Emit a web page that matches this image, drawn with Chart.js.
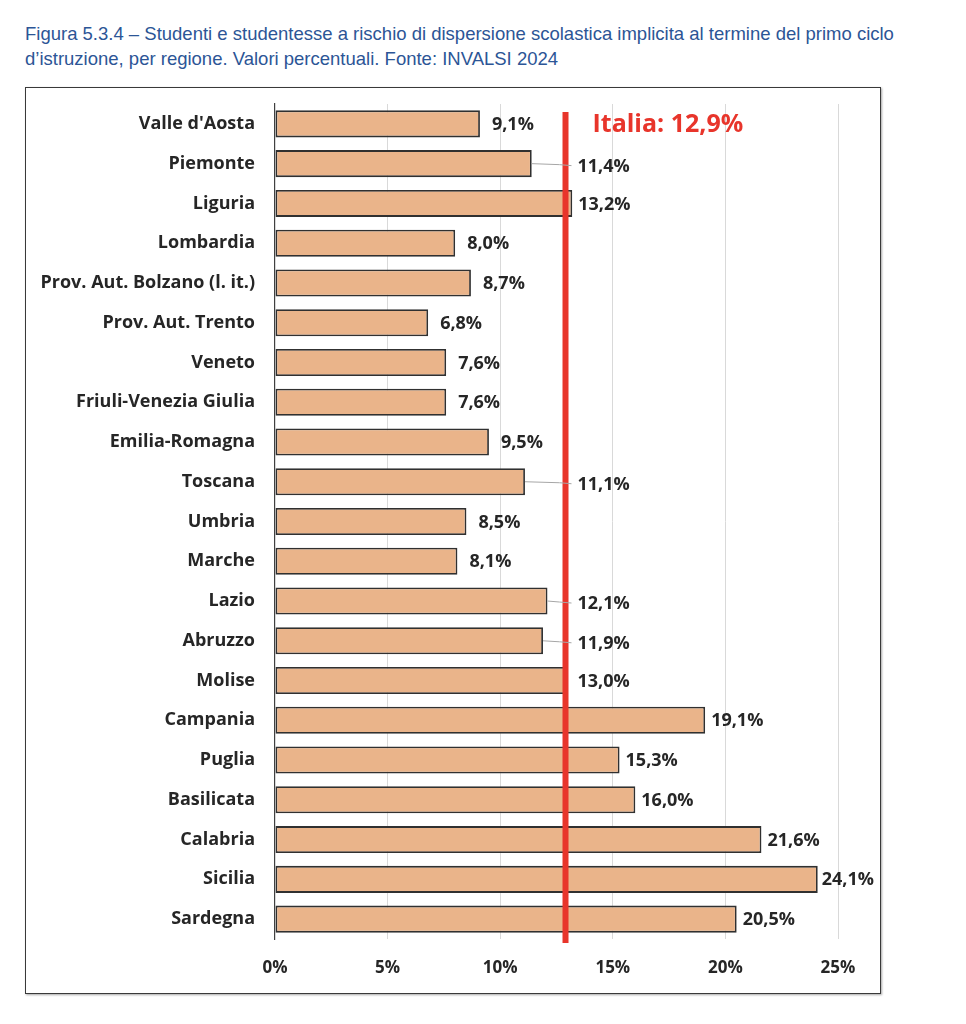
<!DOCTYPE html>
<html>
<head>
<meta charset="utf-8">
<script src="https://cdn.jsdelivr.net/npm/chart.js@4/dist/chart.umd.min.js"></script>
<style>
  html, body { margin: 0; padding: 0; background: #fff; }
  body { width: 966px; height: 1024px; position: relative; overflow: hidden; }
  #title {
    position: absolute; left: 25px; top: 21px; width: 930px;
    font-family: "Liberation Sans", Arial, sans-serif; font-size: 18.5px;
    line-height: 25px; color: #2c5596;
  }
  #box {
    position: absolute; left: 25px; top: 87px; width: 854px; height: 905px;
    border: 1.5px solid #3a3a3a; box-shadow: 1px 1px 2px rgba(0,0,0,0.35);
    background: #fff;
  }
  #wrap { position: absolute; left: 0; top: 0; width: 854px; height: 905px; }
</style>
</head>
<body>
<div id="title">Figura 5.3.4 – Studenti e studentesse a rischio di dispersione scolastica implicita al termine del primo ciclo<br>d’istruzione, per regione. Valori percentuali. Fonte: INVALSI 2024</div>
<div id="box"><div id="wrap"><canvas id="c"></canvas></div></div>
<script>
const regions = ["Valle d'Aosta", "Piemonte", "Liguria", "Lombardia", "Prov. Aut. Bolzano (l. it.)",
  "Prov. Aut. Trento", "Veneto", "Friuli-Venezia Giulia", "Emilia-Romagna", "Toscana", "Umbria",
  "Marche", "Lazio", "Abruzzo", "Molise", "Campania", "Puglia", "Basilicata", "Calabria", "Sicilia", "Sardegna"];
const values = [9.1, 11.4, 13.2, 8.0, 8.7, 6.8, 7.6, 7.6, 9.5, 11.1, 8.5, 8.1, 12.1, 11.9, 13.0, 19.1, 15.3, 16.0, 21.6, 24.1, 20.5];
const italiaValue = 12.9;
const italiaLabel = "Italia: 12,9%";
const xTicks = [0, 5, 10, 15, 20, 25];

const fmt = v => v.toFixed(1).replace('.', ',') + '%';
const FONT = '"Open Sans", Lato, sans-serif';

const overlayPlugin = {
  id: 'overlay',
  afterDatasetsDraw(chart) {
    const ctx = chart.ctx;
    const xs = chart.scales.x;
    const area = chart.chartArea;
    const lineX = xs.getPixelForValue(italiaValue);
    const meta = chart.getDatasetMeta(0);

    // Red Italia line
    ctx.save();
    ctx.strokeStyle = '#e8352b';
    ctx.lineWidth = 6;
    ctx.beginPath();
    ctx.moveTo(lineX, area.top + 8);
    ctx.lineTo(lineX, area.bottom + 4);
    ctx.stroke();

    ctx.fillStyle = '#e8352b';
    ctx.font = 'bold 25px ' + FONT;
    ctx.textBaseline = 'middle';
    ctx.textAlign = 'left';
    ctx.fillText(italiaLabel, lineX + 27, meta.data[0].y + 1);

    // data labels
    ctx.font = 'bold 18px ' + FONT;
    meta.data.forEach((bar, i) => {
      const txt = fmt(values[i]);
      const w = ctx.measureText(txt).width;
      const end = bar.x;
      let x = end + 12;
      let leader = false;
      if (end >= lineX - 4) {
        x = Math.max(end + 6, lineX + 12);
      } else if (end + 12 + w > lineX - 4) {
        x = lineX + 12;
        leader = true;
      }
      const maxRight = chart.width - 6;
      if (x + w > maxRight) x = Math.max(end + 1, maxRight - w);
      if (leader) {
        ctx.strokeStyle = '#a6a6a6';
        ctx.lineWidth = 1;
        ctx.beginPath();
        ctx.moveTo(end, bar.y);
        ctx.lineTo(lineX - 6, bar.y + 1);
        ctx.lineTo(lineX + 6, bar.y + 2);
        ctx.stroke();
      }
      ctx.fillStyle = '#262626';
      ctx.fillText(txt, x, bar.y + (leader ? 3 : 1));
    });
    ctx.restore();
  }
};

new Chart(document.getElementById('c'), {
  type: 'bar',
  data: {
    labels: regions,
    datasets: [{
      data: values,
      backgroundColor: '#eab48a',
      borderColor: '#303030',
      borderWidth: 1.8,
      borderSkipped: false,
      categoryPercentage: 1,
      barPercentage: 0.68
    }]
  },
  options: {
    indexAxis: 'y',
    responsive: true,
    maintainAspectRatio: false,
    animation: false,
    events: [],
    layout: { padding: { top: 16, right: 42, left: 0, bottom: 0 } },
    plugins: { legend: { display: false }, tooltip: { enabled: false } },
    scales: {
      x: {
        min: 0, max: 25,
        afterBuildTicks(scale) { scale.ticks = xTicks.map(v => ({ value: v })); },
        afterFit(scale) { scale.height = 54; scale.paddingLeft = 0; scale.paddingRight = 0; },
        grid: {
          color: ctx => ctx.tick && ctx.tick.value === 0 ? 'rgba(0,0,0,0)' : '#d9d9d9',
          lineWidth: 1,
          drawTicks: false
        },
        border: { display: false },
        ticks: {
          padding: 19,
          color: '#262626',
          font: { family: FONT, weight: 'bold', size: 17 },
          callback: v => v + '%'
        }
      },
      y: {
        afterFit(scale) { scale.width = 249; scale.paddingTop = 0; scale.paddingBottom = 0; },
        grid: { display: false, drawTicks: false },
        border: { display: true, color: '#404040', width: 1.2 },
        ticks: {
          padding: 20,
          color: '#262626',
          font: { family: FONT, weight: 'bold', size: 18 },
          autoSkip: false
        }
      }
    }
  },
  plugins: [overlayPlugin]
});
</script>
</body>
</html>
